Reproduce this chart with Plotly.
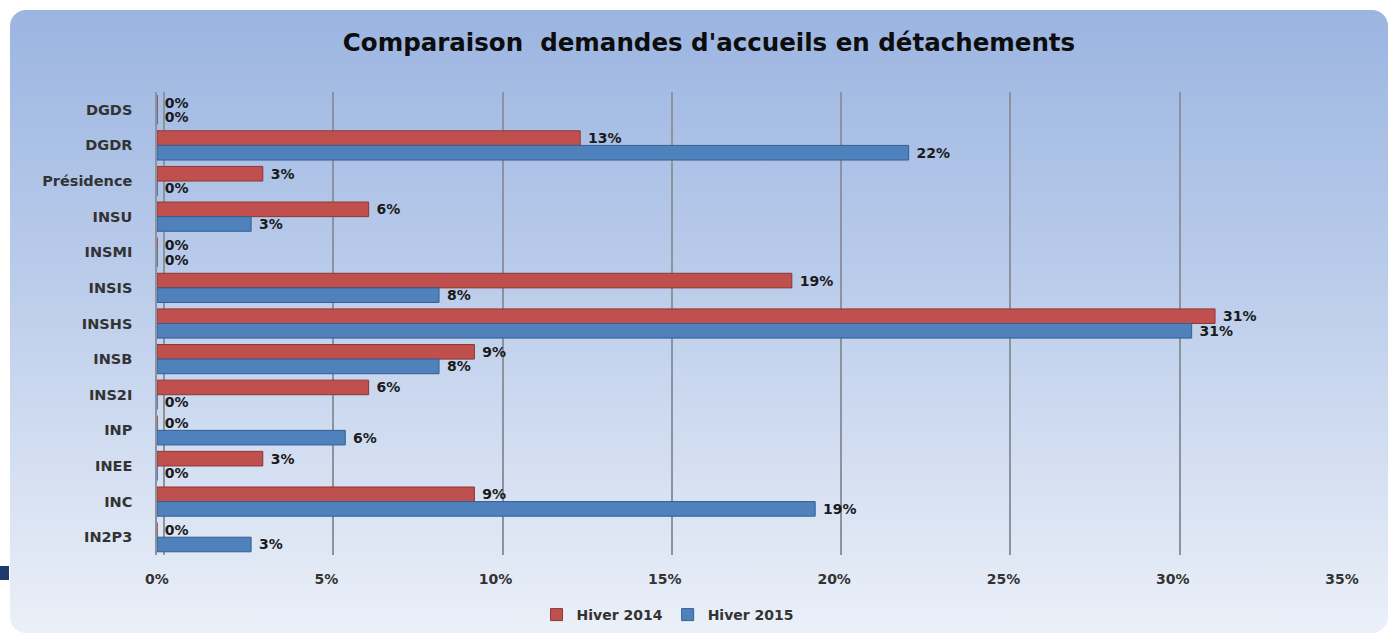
import base64
import plotly.graph_objects as go

categories = ["DGDS", "DGDR", "Présidence", "INSU", "INSMI", "INSIS", "INSHS",
              "INSB", "INS2I", "INP", "INEE", "INC", "IN2P3"]
hiver_2014 = [0, 12.5, 3.125, 6.25, 0, 18.75, 31.25, 9.375, 6.25, 0, 3.125, 9.375, 0]
hiver_2015 = [0, 22.2, 0, 2.78, 0, 8.33, 30.56, 8.33, 0, 5.56, 0, 19.44, 2.78]
x_ticks = [0, 5, 10, 15, 20, 25, 30, 35]
x_tick_labels = ["0%", "5%", "10%", "15%", "20%", "25%", "30%", "35%"]

W, H = 1388, 635
L, R, T, B = 157, 46, 92, 80
PW, PH = W - L - R, H - T - B
FONT = "DejaVu Sans, Verdana, sans-serif"

svg = f'''<svg xmlns="http://www.w3.org/2000/svg" width="{W}" height="{H}" viewBox="0 0 {W} {H}">
<defs><linearGradient id="g" x1="0" y1="0" x2="0" y2="1">
<stop offset="0" stop-color="#9bb5e1"/>
<stop offset="0.45" stop-color="#bccdeb"/>
<stop offset="1" stop-color="#ebf0f8"/>
</linearGradient></defs>
<rect x="0" y="0" width="{W}" height="{H}" fill="#ffffff"/>
<rect x="10" y="10" width="{W-10}" height="{H-12}" rx="16" ry="16" fill="url(#g)"/>
<rect x="0" y="566" width="9" height="14" fill="#1f3b6e"/>
</svg>'''
src = "data:image/svg+xml;base64," + base64.b64encode(svg.encode()).decode()

label_font = dict(family=FONT, size=14, color="#1a1a1a", weight="bold")
fig = go.Figure()
fig.add_trace(go.Bar(
    name="Hiver 2014", y=categories, x=hiver_2014, orientation="h",
    marker=dict(color="#c0504d", line=dict(color="#8c3836", width=1)),
    texttemplate=" %{x:.0f}%", textposition="outside", cliponaxis=False,
    constraintext="none", textfont=label_font,
))
fig.add_trace(go.Bar(
    name="Hiver 2015", y=categories, x=hiver_2015, orientation="h",
    marker=dict(color="#4f81bd", line=dict(color="#355f91", width=1)),
    texttemplate=" %{x:.0f}%", textposition="outside", cliponaxis=False,
    constraintext="none", textfont=label_font,
))
# helper trace for back-wall gridlines
fig.add_trace(go.Scatter(x=[None], y=[None], xaxis="x2", showlegend=False, hoverinfo="skip"))

shift = 7 * 35 / PW
fig.update_layout(
    width=W, height=H,
    margin=dict(l=L, r=R, t=T, b=B, autoexpand=False),
    paper_bgcolor="white", plot_bgcolor="rgba(0,0,0,0)",
    barmode="group", bargap=0.18, bargroupgap=0.0,
    title=dict(text="Comparaison  demandes d'accueils en détachements",
               x=709 / W, xref="container", xanchor="center",
               y=1 - 42 / H, yref="container", yanchor="middle",
               font=dict(family=FONT, size=24.5, color="#0d0d0d", weight="bold")),
    font=dict(family=FONT, color="#333333"),
    xaxis=dict(range=[0, 35], tickvals=x_ticks, ticktext=x_tick_labels, showgrid=False,
               zeroline=False, showline=False, ticks="", ticklabelstandoff=14,
               tickfont=dict(size=14, color="#333333", weight="bold")),
    xaxis2=dict(overlaying="x", range=[-shift, 35 - shift], tickvals=x_ticks, showgrid=True,
                gridcolor="#8d939e", gridwidth=1.6, showticklabels=False, zeroline=False,
                side="top", ticks=""),
    yaxis=dict(categoryorder="array", categoryarray=categories, autorange="reversed",
               showline=True, linecolor="#8d939e", linewidth=1.5, ticks="",
               ticklabelstandoff=20, tickfont=dict(size=14.5, color="#333333", weight="bold")),
    legend=dict(orientation="h", xref="container", x=668 / W, xanchor="center",
                yref="container", y=1 - 615 / H, yanchor="middle",
                font=dict(size=14, color="#333333", weight="bold"), traceorder="normal",
                bgcolor="rgba(0,0,0,0)", itemwidth=30),
    images=[dict(source=src, xref="paper", yref="paper", x=-L / PW, y=1 + T / PH,
                 sizex=W / PW, sizey=H / PH, xanchor="left", yanchor="top",
                 sizing="stretch", layer="below")],
    showlegend=True,
)
fig.write_html("out.html", config={"displayModeBar": False},
               post_script="document.body.style.margin='0px';document.body.style.overflow='hidden';")
